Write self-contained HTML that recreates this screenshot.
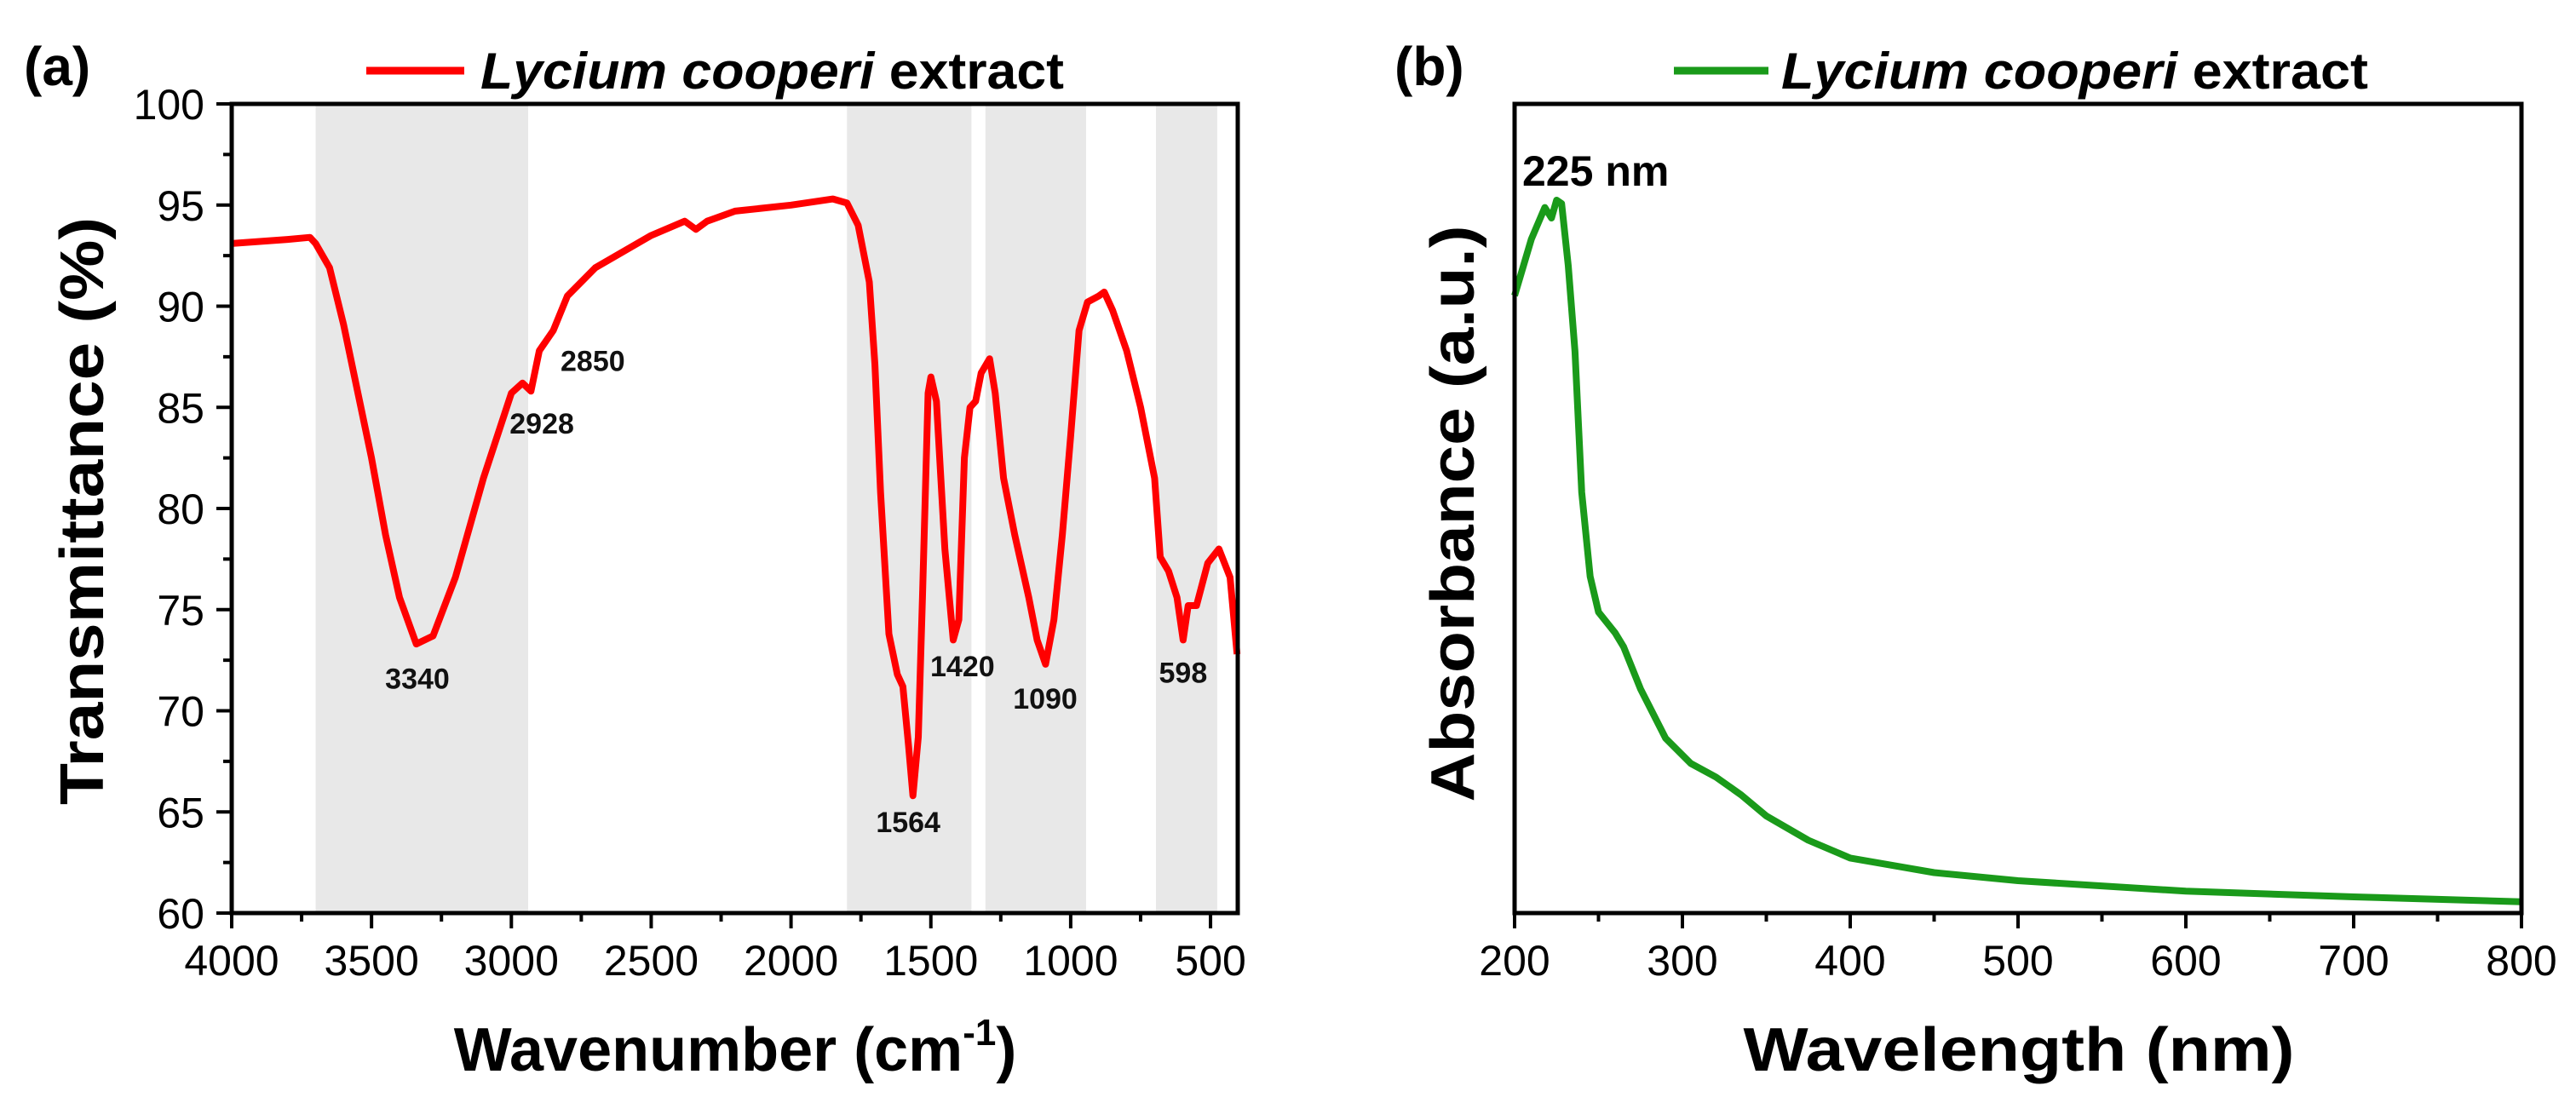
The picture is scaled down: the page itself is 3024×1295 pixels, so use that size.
<!DOCTYPE html>
<html><head><meta charset="utf-8"><style>
html,body{margin:0;padding:0;background:#fff;}
svg{display:block;font-family:"Liberation Sans",Arial,sans-serif;}
</style></head><body>
<svg id="fig" width="3024" height="1295" viewBox="0 0 3024 1295" xmlns="http://www.w3.org/2000/svg">
<g id="pa"></g>
<g id="pb"></g>
</svg>
<script>
// ---- Panel (a) FTIR data ----
const ftirWavenumber = [4000,3800,3720,3700,3650,3600,3500,3450,3400,3340,3280,3200,3100,3000,2960,2930,2900,2850,2800,2700,2500,2380,2340,2300,2200,2000,1850,1800,1760,1720,1700,1680,1650,1620,1600,1580,1564,1545,1530,1510,1500,1480,1450,1420,1400,1380,1360,1340,1320,1290,1270,1240,1200,1150,1120,1090,1060,1030,1000,970,940,900,880,850,800,750,700,680,650,620,598,580,550,510,470,430,405];
const ftirTransmittance = [93.1,93.3,93.4,93.1,91.9,89.1,82.5,78.7,75.6,73.3,73.7,76.6,81.5,85.7,86.2,85.8,87.8,88.8,90.5,91.9,93.5,94.2,93.8,94.2,94.7,95.0,95.3,95.1,94.0,91.2,87.1,80.8,73.8,71.8,71.2,68.3,65.8,68.7,75.6,85.7,86.5,85.3,78.0,73.5,74.5,82.5,85.0,85.3,86.7,87.4,85.7,81.5,78.7,75.6,73.5,72.3,74.5,78.7,83.6,88.8,90.2,90.5,90.7,89.8,87.8,85.0,81.5,77.6,76.9,75.6,73.5,75.2,75.2,77.3,78.0,76.6,72.8];
const ftirXTicks = [4000,3500,3000,2500,2000,1500,1000,500];
const ftirYTicks = [60,65,70,75,80,85,90,95,100];
const ftirBandStart = [3700,1800,1305,695];
const ftirBandEnd = [2940,1355,945,476];
const peakLabels = ["3340","2928","2850","1564","1420","1090","598"];
const peakLabelX = [3336,2891,2709,1581,1387,1091,598];
const peakLabelT = [71.1,83.7,86.8,64.0,71.7,70.1,71.4];
// ---- Panel (b) UV-Vis data ----
const uvWavelength = [200,210,218,222,225,228,232,236,240,245,250,260,265,275,290,305,320,335,350,375,400,450,500,600,700,800];
const uvAbsorbance = [0.763,0.833,0.872,0.859,0.881,0.877,0.80,0.694,0.52,0.416,0.372,0.346,0.329,0.277,0.216,0.185,0.168,0.146,0.12,0.09,0.068,0.05,0.04,0.027,0.02,0.014];
const uvXTicks = [200,300,400,500,600,700,800];

const NS="http://www.w3.org/2000/svg";
function mk(parent,tag,attrs,text){const e=document.createElementNS(NS,tag);for(const k in attrs)e.setAttribute(k,attrs[k]);if(text!==undefined)e.textContent=text;parent.appendChild(e);return e;}

// Panel a
const pa=document.getElementById('pa');
const aL=272,aR=1453,aT=122,aB=1072;
const ax=v=>aL+(4000-v)/1000*328.3;
const ay=v=>aT+(100-v)/40*(aB-aT);
for(let i=0;i<ftirBandStart.length;i++){
  const r=mk(pa,'rect',{x:ax(ftirBandStart[i]),y:aT,width:ax(ftirBandEnd[i])-ax(ftirBandStart[i]),height:aB-aT,fill:'#e8e8e8'});
  
  
}
let d='';ftirWavenumber.forEach((w,i)=>{d+=(i?'L':'M')+ax(w).toFixed(1)+','+ay(ftirTransmittance[i]).toFixed(1);});
const la=mk(pa,'path',{d:d,fill:'none',stroke:'#ff0000','stroke-width':8,'stroke-linejoin':'round'});


mk(pa,'rect',{x:aL,y:aT,width:aR-aL,height:aB-aT,fill:'none',stroke:'#000','stroke-width':5});
ftirXTicks.forEach(v=>{
  mk(pa,'line',{x1:ax(v),x2:ax(v),y1:aB,y2:aB+18,stroke:'#000','stroke-width':4});
  const t=mk(pa,'text',{x:ax(v),y:1145,'font-size':50,'text-anchor':'middle'},v);
  
  
});
for(let v=3750;v>=500;v-=500){mk(pa,'line',{x1:ax(v),x2:ax(v),y1:aB,y2:aB+10,stroke:'#000','stroke-width':4});}
ftirYTicks.forEach(v=>{
  mk(pa,'line',{x1:aL-18,x2:aL,y1:ay(v),y2:ay(v),stroke:'#000','stroke-width':4});
  const t=mk(pa,'text',{x:240,y:ay(v)+18,'font-size':50,'text-anchor':'end'},v);
  
  
});
for(let v=62.5;v<100;v+=5){mk(pa,'line',{x1:aL-10,x2:aL,y1:ay(v),y2:ay(v),stroke:'#000','stroke-width':4});}
peakLabels.forEach((s,i)=>{
  const t=mk(pa,'text',{x:ax(peakLabelX[i]),y:ay(peakLabelT[i]),'font-size':34,'font-weight':'bold','text-anchor':'middle',fill:'#111'},s);
  
  
});
let t;
t=mk(pa,'text',{x:96,y:600,'font-size':72,'font-weight':'bold','text-anchor':'middle',transform:'rotate(-90 96 600)',dy:25,textLength:690,lengthAdjust:'spacingAndGlyphs'},'Transmittance (%)');

t=mk(pa,'text',{x:863,y:1257,'font-size':72,'font-weight':'bold','text-anchor':'middle'},'');

t.innerHTML='Wavenumber (cm<tspan font-size="44" dy="-30">-1</tspan><tspan dy="30">)</tspan>';
t=mk(pa,'text',{x:28,y:100,'font-size':64,'font-weight':'bold'},'(a)');

const lga=mk(pa,'line',{x1:430,x2:545,y1:83,y2:83,stroke:'#ff0000','stroke-width':9});

t=mk(pa,'text',{x:564,y:104,'font-size':60,'font-weight':'bold',textLength:685,lengthAdjust:'spacingAndGlyphs'},'');

t.innerHTML='<tspan font-style="italic">Lycium cooperi</tspan> extract';

// Panel b
const pb=document.getElementById('pb');
const bL=1778,bR=2960,bT=122,bB=1072;
const bx=v=>bL+(v-200)/600*(bR-bL);
const by=v=>bB-v*(bB-bT);
let d2='';uvWavelength.forEach((w,i)=>{d2+=(i?'L':'M')+bx(w).toFixed(1)+','+by(uvAbsorbance[i]).toFixed(1);});
const lb=mk(pb,'path',{d:d2,fill:'none',stroke:'#1a9a1a','stroke-width':8,'stroke-linejoin':'round'});


mk(pb,'rect',{x:bL,y:bT,width:bR-bL,height:bB-bT,fill:'none',stroke:'#000','stroke-width':5});
uvXTicks.forEach(v=>{
  mk(pb,'line',{x1:bx(v),x2:bx(v),y1:bB,y2:bB+18,stroke:'#000','stroke-width':4});
  const tt=mk(pb,'text',{x:bx(v),y:1145,'font-size':50,'text-anchor':'middle'},v);
  
  
});
for(let v=250;v<800;v+=100){mk(pb,'line',{x1:bx(v),x2:bx(v),y1:bB,y2:bB+10,stroke:'#000','stroke-width':4});}
t=mk(pb,'text',{x:1705,y:603,'font-size':72,'font-weight':'bold','text-anchor':'middle',transform:'rotate(-90 1705 603)',dy:25,textLength:677,lengthAdjust:'spacingAndGlyphs'},'Absorbance (a.u.)');

t=mk(pb,'text',{x:2370,y:1257,'font-size':72,'font-weight':'bold','text-anchor':'middle',textLength:647,lengthAdjust:'spacingAndGlyphs'},'Wavelength (nm)');

t=mk(pb,'text',{x:1637,y:100,'font-size':64,'font-weight':'bold'},'(b)');

t=mk(pb,'text',{x:1787,y:218,'font-size':50,'font-weight':'bold'},'225 nm');

const lgb=mk(pb,'line',{x1:1965,x2:2076,y1:83,y2:83,stroke:'#1a9a1a','stroke-width':9});

t=mk(pb,'text',{x:2091,y:104,'font-size':60,'font-weight':'bold',textLength:689,lengthAdjust:'spacingAndGlyphs'},'');

t.innerHTML='<tspan font-style="italic">Lycium cooperi</tspan> extract';
</script>
</body></html>
